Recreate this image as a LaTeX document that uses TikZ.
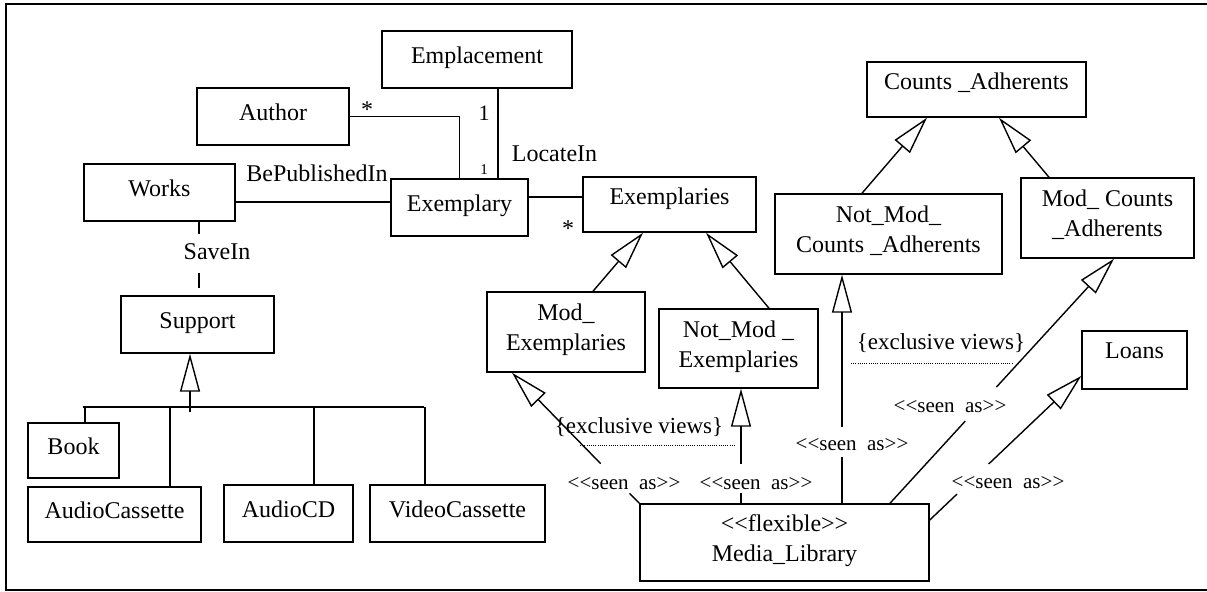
\documentclass[tikz,border=0pt]{standalone}
\usepackage{fontspec}
\setmainfont{Liberation Serif}
\usetikzlibrary{arrows.meta}
\newcommand\sLL{<\kern0pt<}
\newcommand\sGG{>\kern0pt>}
\newcommand\seenas{\sLL seen\ \ as\sGG}
\begin{document}
\begin{tikzpicture}[x=0.5pt,y=-0.5pt,
  box/.style={draw,line width=0.75pt,inner sep=0pt,align=center,
    font=\fontsize{12}{15}\selectfont},
  one/.style={text height=8.5pt,text depth=4.5pt},
  multi/.style={text depth=4.5pt},
  conn/.style={line width=0.7pt},
  inh/.style={conn,-{Triangle[open,length=19pt,width=10pt,line width=0.7pt]}},
  lbl/.style={inner sep=0pt,font=\fontsize{12}{14}\selectfont},
  seen/.style={inner sep=0pt,font=\fontsize{10.5}{12}\selectfont},
  excl/.style={inner sep=0pt,font=\fontsize{11.5}{13}\selectfont},
  dots/.style={line width=0.5pt,dash pattern=on 0.5pt off 0.6pt}]
\useasboundingbox (0,0) rectangle (1207,592);
\draw[line width=1pt] (6,4.5) rectangle (1220,590);

% boxes
\node[box,one,minimum width=95pt,minimum height=28.5pt] (empl) at (477,59.5) {Emplacement};
\node[box,one,minimum width=76pt,minimum height=28.5pt] (author) at (273,116.5) {Author};
\node[box,one,minimum width=75.5pt,minimum height=28.5pt] (works) at (159.5,192.5) {Works};
\node[box,one,minimum width=68.5pt,minimum height=28.5pt] (exemplary) at (459.5,207.5) {Exemplary};
\node[box,one,minimum width=86.5pt,minimum height=27.5pt,text depth=8pt] (exemplaries) at (669.5,204.5) {Exemplaries};
\node[box,one,minimum width=76.5pt,minimum height=28.5pt] (support) at (197.5,324.5) {Support};
\node[box,one,minimum width=45.5pt,minimum height=27.5pt] (book) at (73.5,450.5) {Book};
\node[box,one,minimum width=86.5pt,minimum height=27.5pt] (acass) at (114.5,514.5) {AudioCassette};
\node[box,one,minimum width=64.5pt,minimum height=28.5pt] (acd) at (288.5,513.5) {AudioCD};
\node[box,one,minimum width=87.5pt,minimum height=28.5pt] (vcass) at (457.5,513.5) {VideoCassette};
\node[box,multi,minimum width=79pt,minimum height=40pt] (modex) at (566,332) {Mod\_\\Exemplaries};
\node[box,multi,minimum width=79.5pt,minimum height=39.5pt] (notmodex) at (738.5,348.5) {Not\_Mod \_\\Exemplaries};
\node[box,one,minimum width=109.5pt,minimum height=27.5pt,text depth=8pt] (counts) at (976.5,89.5) {Counts \_Adherents};
\node[box,multi,minimum width=113.5pt,minimum height=40pt] (nmca) at (888.5,234) {Not\_Mod\_\\Counts \_Adherents};
\node[box,multi,minimum width=86.5pt,minimum height=40pt] (mca) at (1107.5,218) {Mod\_ Counts\\\_Adherents};
\node[box,one,minimum width=52.5pt,minimum height=29pt,text depth=9.5pt] (loans) at (1134.5,360) {Loans};
\node[box,multi,minimum width=144.5pt,minimum height=38.5pt] (ml) at (784.5,542.5) {\sLL flexible\sGG\\Media\_Library};

% associations
\draw[conn] (author.east) -| (exemplary.north);
\draw[conn] ([xshift=10.5pt]empl.south) -- ([xshift=19.25pt]exemplary.north);
\draw[conn] ([yshift=-4.75pt]works.east) -- ([yshift=2.75pt]exemplary.west);
\draw[conn] ([yshift=5.25pt]exemplary.east) -- ([yshift=3.75pt]exemplaries.west);
\draw[conn] ([xshift=19.75pt]works.south) -- ([xshift=19.75pt,yshift=-6pt]works.south);
\draw[conn] ([xshift=0.75pt,yshift=11pt]support.north) -- ([xshift=0.75pt,yshift=3.5pt]support.north);

\node[lbl] (st1) at (367,110) {*};
\node[lbl] (st2) at (568,229) {*};
\node[inner sep=0pt,font=\fontsize{11}{12}\selectfont] (one1) at (484,113) {1};
\node[inner sep=0pt,font=\fontsize{7.5}{9}\selectfont] (one2) at (484,170) {1};
\node[lbl] (locin) at (554.5,154) {LocateIn};
\node[lbl] (bepub) at (317,173) {BePublishedIn};
\node[lbl] (savein) at (217,252) {SaveIn};

% Support hierarchy
\coordinate (stem) at (190,412);
\coordinate (barL) at (83,407);
\coordinate (barR) at (424,407);
\draw[inh] (stem) -- ([xshift=-3.75pt]support.south);
\draw[conn] (barL) -- (barR);
\draw[conn] ([xshift=5.75pt]book.north) -- ([xshift=5.75pt]book.north |- barL);
\draw[conn] ([xshift=27.75pt]acass.north) -- ([xshift=27.75pt]acass.north |- barL);
\draw[conn] ([xshift=12.75pt]acd.north) -- ([xshift=12.75pt]acd.north |- barL);
\draw[conn] ([xshift=-16.25pt]vcass.north) -- ([xshift=-16.25pt]vcass.north |- barL);

% generalisations
\draw[inh] ([xshift=13.5pt]modex.north) -- ([xshift=-13.25pt]exemplaries.south);
\draw[inh] ([xshift=15.25pt]notmodex.north) -- ([xshift=18.25pt]exemplaries.south);
\draw[inh] ([xshift=-13.25pt]nmca.north) -- ([xshift=-24.75pt]counts.south);
\draw[inh] ([xshift=-29.25pt]mca.north) -- ([xshift=11.25pt]counts.south);

% seen as: Mod_Exemplaries
\coordinate (e1) at ([xshift=-27pt]modex.south);
\path (ml.north west) -- (e1) coordinate[pos=0.076] (a1) coordinate[pos=0.303] (a2);
\draw[conn] (ml.north west) -- (a1);
\draw[inh] (a2) -- (e1);
% seen as: Not_Mod_Exemplaries
\coordinate (s2) at ([xshift=-21.75pt]ml.north);
\path (s2) -- (s2 |- notmodex.south) coordinate[pos=0.086] (b1) coordinate[pos=0.345] (b2);
\draw[conn] (s2) -- (b1);
\draw[inh] (b2) -- (s2 |- notmodex.south);
% seen as: Not_Mod_Counts_Adherents
\coordinate (s3) at ([xshift=28.75pt]ml.north);
\path (s3) -- (s3 |- nmca.south) coordinate[pos=0.204] (c1) coordinate[pos=0.335] (c2);
\draw[conn] (s3) -- (c1);
\draw[inh] (c2) -- (s3 |- nmca.south);
% seen as: Mod_Counts_Adherents
\coordinate (s4) at ([xshift=52.75pt]ml.north);
\coordinate (e4) at ([xshift=3.25pt]mca.south);
\path (s4) -- (e4) coordinate[pos=0.336] (d1) coordinate[pos=0.475] (d2);
\draw[conn] (s4) -- (d1);
\draw[inh] (d2) -- (e4);
% seen as: Loans
\coordinate (s5) at ([yshift=11.25pt]ml.east);
\coordinate (e5) at ([yshift=-8pt]loans.west);
\path (s5) -- (e5) coordinate[pos=0.18] (f1) coordinate[pos=0.389] (f2);
\draw[conn] (s5) -- (f1);
\draw[inh] (f2) -- (e5);

\node[seen] (seen1) at (624,484) {\seenas};
\node[seen] (seen2) at (756,484) {\seenas};
\node[seen] (seen3) at (852,445) {\seenas};
\node[seen] (seen4) at (950,407) {\seenas};
\node[seen] (seen5) at (1008,483) {\seenas};

% exclusive views
\node[excl] (excl1) at (639,427) {\{exclusive views\}};
\coordinate (x1a) at (580,446);
\coordinate (x1b) at (735,446);
\draw[dots] (x1a) -- (x1b);
\node[excl] (excl2) at (941,343) {\{exclusive views\}};
\coordinate (x2a) at (851,364);
\coordinate (x2b) at (1013,364);
\draw[dots] (x2a) -- (x2b);
\end{tikzpicture}
\end{document}
